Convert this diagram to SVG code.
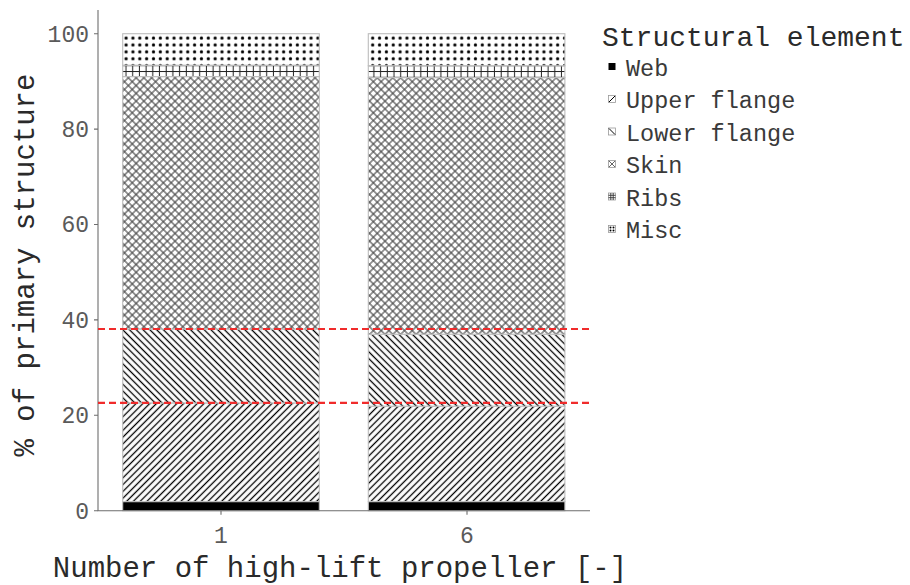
<svg xmlns="http://www.w3.org/2000/svg" width="910" height="585" viewBox="0 0 910 585">
<style>
  text { font-family: "Liberation Mono", "DejaVu Sans Mono", monospace; }
  .tick { font-size: 23px; fill: #5a5a5a; }
  .title { font-size: 29px; fill: #2a2a2a; }
  .ltitle { font-size: 28px; fill: #2a2a2a; }
  .leg { font-size: 23.5px; fill: #3a3a3a; }
  .axis { stroke: #6e6e6e; stroke-width: 1.1; fill: none; }
  .seg { stroke: #bdbdbd; stroke-width: 1.1; }
  .ref { stroke: #f02b2b; stroke-width: 2.2; stroke-dasharray: 7 4; fill: none; }
  .key { stroke: #999; stroke-width: 0.8; }
</style>
<defs>
  <pattern id="pUpper" width="4.8" height="4.8" patternUnits="userSpaceOnUse" patternTransform="rotate(45)">
    <rect width="4.8" height="4.8" fill="#fff"/>
    <line x1="2.4" y1="-1" x2="2.4" y2="6" stroke="#000" stroke-width="1.3"/>
  </pattern>
  <pattern id="pLower" width="4.8" height="4.8" patternUnits="userSpaceOnUse" patternTransform="rotate(-45)">
    <rect width="4.8" height="4.8" fill="#fff"/>
    <line x1="2.4" y1="-1" x2="2.4" y2="6" stroke="#000" stroke-width="1.3"/>
  </pattern>
  <pattern id="pSkin" width="5.5" height="5.5" patternUnits="userSpaceOnUse" patternTransform="rotate(45)">
    <rect width="5.5" height="5.5" fill="#fff"/>
    <line x1="2.75" y1="-1" x2="2.75" y2="6.5" stroke="#444" stroke-width="1.1"/>
    <line x1="-1" y1="2.75" x2="6.5" y2="2.75" stroke="#444" stroke-width="1.1"/>
  </pattern>
  <pattern id="pRibs" x="122.7" y="65.2" width="6.7" height="5.8" patternUnits="userSpaceOnUse">
    <rect width="6.7" height="5.8" fill="#fff"/>
    <line x1="3.3" y1="0" x2="3.3" y2="5.8" stroke="#222" stroke-width="1"/>
    <line x1="0" y1="0.5" x2="6.7" y2="0.5" stroke="#222" stroke-width="1"/>
  </pattern>
  <pattern id="pMisc" x="122.7" y="33.7" width="6.85" height="6.9" patternUnits="userSpaceOnUse">
    <rect width="6.85" height="6.9" fill="#fff"/>
    <circle cx="3.4" cy="4.4" r="1.6" fill="#000"/>
  </pattern>
</defs>
<rect width="910" height="585" fill="#fff"/>

<g id="bar-1">
  <rect class="seg" x="122.7" y="501.6" width="196.6" height="9.1" fill="#000"/>
  <rect class="seg" x="122.7" y="402.9" width="196.6" height="98.7" fill="url(#pUpper)"/>
  <rect class="seg" x="122.7" y="329" width="196.6" height="73.9" fill="url(#pLower)"/>
  <rect class="seg" x="122.7" y="76.6" width="196.6" height="252.4" fill="url(#pSkin)"/>
  <rect class="seg" x="122.7" y="65.2" width="196.6" height="11.4" fill="url(#pRibs)"/>
  <rect class="seg" x="122.7" y="33.7" width="196.6" height="31.5" fill="url(#pMisc)"/>
</g>
<g id="bar-6">
  <rect class="seg" x="368.3" y="501.6" width="196.6" height="9.1" fill="#000"/>
  <rect class="seg" x="368.3" y="406.2" width="196.6" height="95.4" fill="url(#pUpper)"/>
  <rect class="seg" x="368.3" y="334.2" width="196.6" height="72" fill="url(#pLower)"/>
  <rect class="seg" x="368.3" y="77.6" width="196.6" height="256.6" fill="url(#pSkin)"/>
  <rect class="seg" x="368.3" y="65.7" width="196.6" height="11.9" fill="url(#pRibs)"/>
  <rect class="seg" x="368.3" y="33.7" width="196.6" height="32" fill="url(#pMisc)"/>
</g>

<g id="axes">
  <path class="axis" d="M98 10 V510.7 H590"/>
  <path class="axis" d="M94 510.7 H98 M94 415.3 H98 M94 319.9 H98 M94 224.5 H98 M94 129.1 H98 M94 33.7 H98 M221 510.7 V514.7 M467 510.7 V514.7"/>
  <g class="tick" text-anchor="end">
    <text x="89" y="518.5">0</text>
    <text x="89" y="423.1">20</text>
    <text x="89" y="327.7">40</text>
    <text x="89" y="232.3">60</text>
    <text x="89" y="136.9">80</text>
    <text x="89" y="41.5">100</text>
  </g>
  <g class="tick" text-anchor="middle">
    <text x="221" y="543">1</text>
    <text x="467" y="543">6</text>
  </g>
  <text class="title" x="340" y="577" text-anchor="middle">Number of high-lift propeller [-]</text>
  <text class="title" transform="translate(33.5 265) rotate(-90)" text-anchor="middle">% of primary structure</text>
</g>

<g id="reference-lines">
  <line class="ref" x1="98" y1="329" x2="590" y2="329"/>
  <line class="ref" x1="98" y1="402.8" x2="590" y2="402.8"/>
</g>

<g id="legend">
  <text class="ltitle" x="602" y="46">Structural element</text>
  <g id="leg-web">
    <rect x="608.5" y="63" width="7" height="7" fill="#000"/>
    <text class="leg" x="626" y="75.5">Web</text>
  </g>
  <g id="leg-upper">
    <rect class="key" x="608.5" y="95.5" width="7" height="7" fill="#fff"/>
    <line x1="609" y1="102" x2="615" y2="96" stroke="#000" stroke-width="1"/>
    <text class="leg" x="626" y="108">Upper flange</text>
  </g>
  <g id="leg-lower">
    <rect class="key" x="608.5" y="128" width="7" height="7" fill="#fff"/>
    <line x1="609" y1="128.5" x2="615" y2="134.5" stroke="#000" stroke-width="1"/>
    <text class="leg" x="626" y="140.5">Lower flange</text>
  </g>
  <g id="leg-skin">
    <rect class="key" x="608.5" y="160.5" width="7" height="7" fill="#fff"/>
    <path d="M609 161 L615 167 M615 161 L609 167" stroke="#555" stroke-width="0.9"/>
    <text class="leg" x="626" y="173">Skin</text>
  </g>
  <g id="leg-ribs">
    <rect class="key" x="608.5" y="193" width="7" height="7" fill="#fff"/>
    <path d="M610.8 193 V200 M613.2 193 V200 M608.5 195.3 H615.5 M608.5 197.7 H615.5" stroke="#333" stroke-width="0.9"/>
    <text class="leg" x="626" y="205.5">Ribs</text>
  </g>
  <g id="leg-misc">
    <rect class="key" x="608.5" y="225.5" width="7" height="7" fill="#fff"/>
    <circle cx="610.5" cy="227.5" r="1" fill="#000"/>
    <circle cx="613.5" cy="227.5" r="1" fill="#000"/>
    <circle cx="610.5" cy="230.5" r="1" fill="#000"/>
    <circle cx="613.5" cy="230.5" r="1" fill="#000"/>
    <text class="leg" x="626" y="238">Misc</text>
  </g>
</g>
</svg>
